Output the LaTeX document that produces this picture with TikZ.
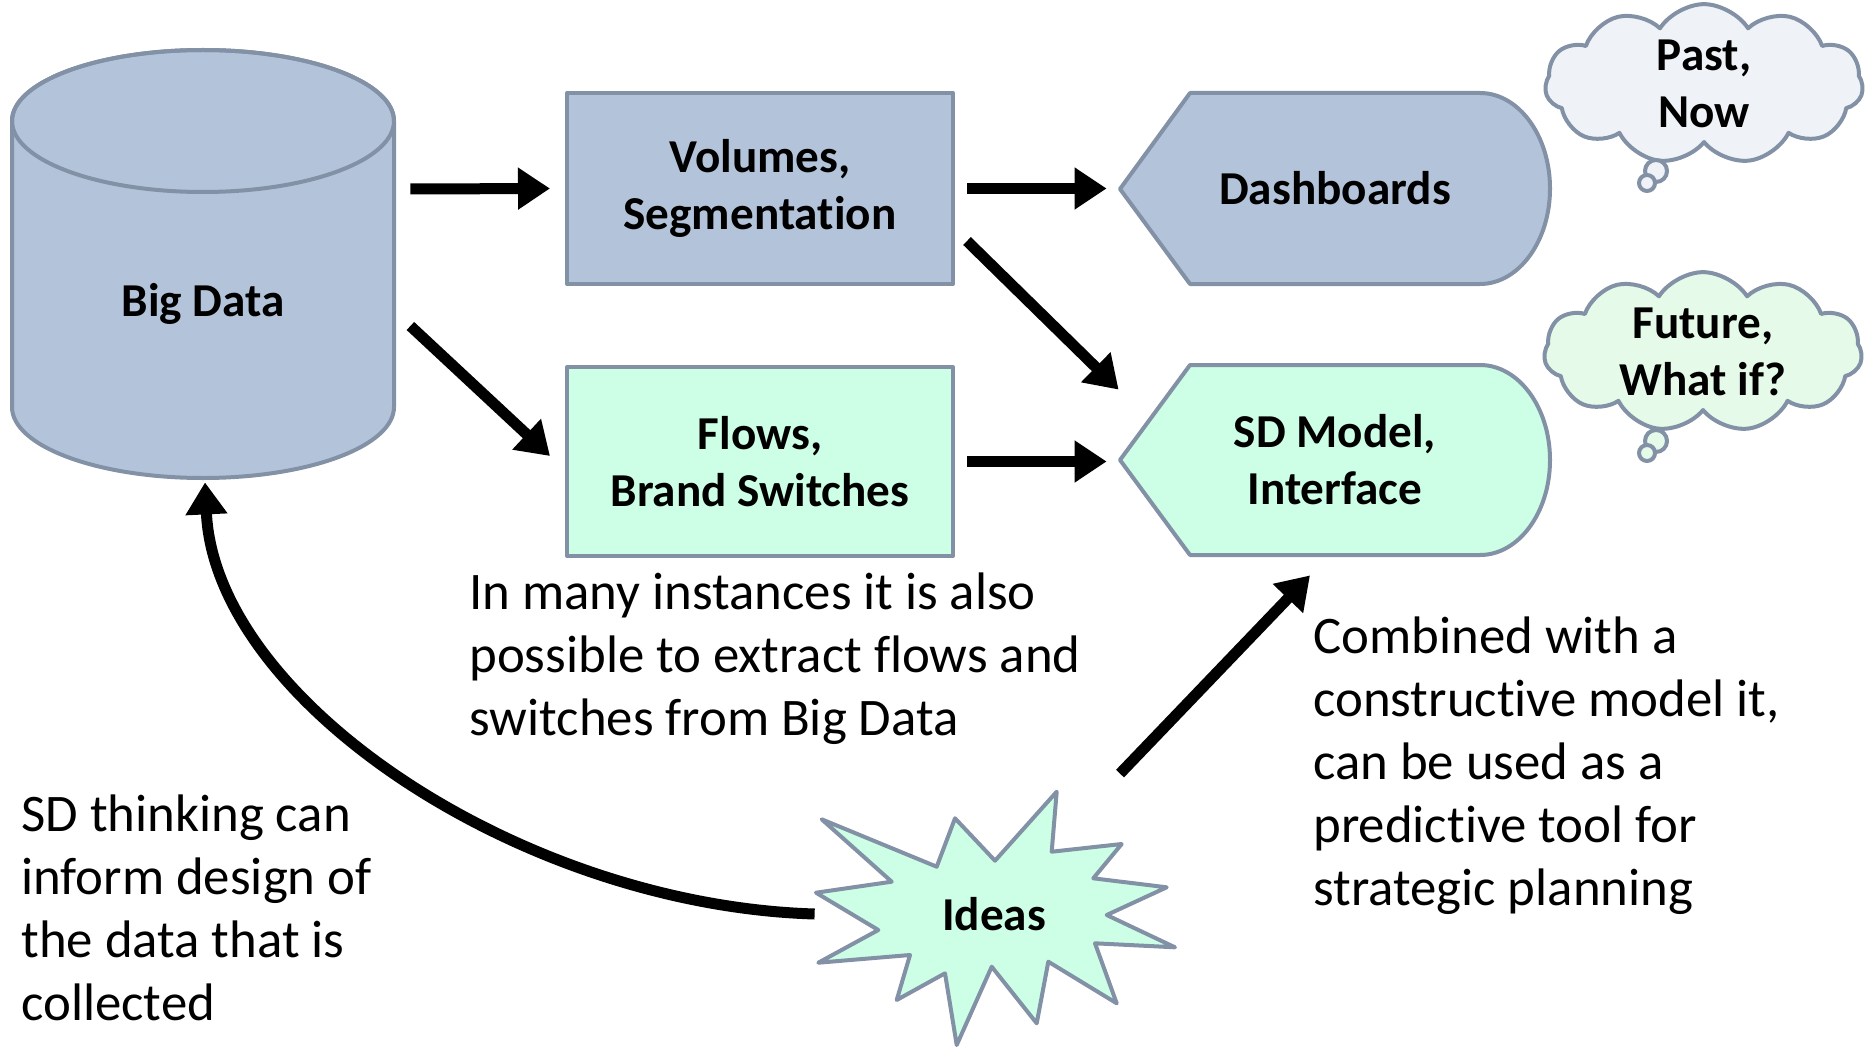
\documentclass[tikz,border=0pt]{standalone}
\usepackage{fontspec}
\setmainfont{Carlito}[Ligatures=NoCommon]
\usetikzlibrary{arrows.meta,shapes.symbols,calc}

\definecolor{bluefill}{RGB}{179,196,218}
\definecolor{greenfill}{RGB}{204,255,229}
\definecolor{edgegray}{RGB}{130,145,165}
\definecolor{cloudblue}{RGB}{239,243,248}
\definecolor{cloudgreen}{RGB}{230,250,233}

\begin{document}
\begin{tikzpicture}[x=0.5pt,y=-0.5pt,
  shape edge/.style={draw=edgegray, line width=2pt, line join=round},
  label text/.style={font=\fontsize{23.6}{28.5}\selectfont\bfseries, align=center, inner sep=0pt},
  body text/.style={font=\fontsize{26.4}{31.6}\selectfont, align=left, inner sep=0pt, anchor=north west},
  stepbox/.style={shape edge, label text, rectangle, minimum width=193pt},
  thought/.style={cloud, cloud puffs=11, cloud puff arc=115, aspect=2.1, shape edge,
    label text, minimum width=159pt, minimum height=78pt},
  flow/.style={line width=5.5pt, -{Triangle[length=16pt,width=20pt]}},
]
\useasboundingbox (0,0) rectangle (1872,1048);

% data store drawn as a cylinder
\path[shape edge, fill=bluefill]
  (12,121) -- (12,407)
  arc[start angle=180, end angle=0, x radius=191, y radius=71]
  -- (394,121)
  arc[start angle=0, end angle=-180, x radius=191, y radius=71] -- cycle;
\draw[shape edge] (203,121) ellipse[x radius=191, y radius=71];
\node[label text, minimum width=191pt, minimum height=214pt,
  text height=52pt, text depth=0pt] (bigdata) at (203,264) {Big Data};

% processing boxes
\node[stepbox, fill=bluefill, minimum height=95.5pt] (vol) at (760,188.5)
  {Volumes,\\Segmentation};
\node[stepbox, fill=greenfill, minimum height=94.5pt] (flows) at (760,461.5)
  {Flows,\\Brand Switches};

% display shapes
\path[shape edge, fill=bluefill]
  (1120,189) -- (1190,93) -- (1480,93)
  arc[start angle=-90, end angle=90, x radius=70, y radius=95.5]
  -- (1190,284) -- cycle;
\node[label text, minimum width=215pt, minimum height=95.5pt] (dash) at (1335,188.5)
  {Dashboards};
\path[shape edge, fill=greenfill]
  (1120,460) -- (1190,365) -- (1480,365)
  arc[start angle=-90, end angle=90, x radius=70, y radius=95]
  -- (1190,555) -- cycle;
\node[label text, minimum width=215pt, minimum height=95pt] (sd) at (1335,460)
  {SD Model,\\Interface};

% thought clouds
\node[thought, fill=cloudblue] (past) at (1704,84) {Past,\\Now};
\draw[shape edge, fill=cloudblue] (1656,171) circle[radius=11];
\draw[shape edge, fill=cloudblue] (1647,183) circle[radius=8];
\node[thought, fill=cloudgreen] (future) at (1703,352) {Future,\\What if?};
\draw[shape edge, fill=cloudgreen] (1656,441) circle[radius=11];
\draw[shape edge, fill=cloudgreen] (1647,453) circle[radius=8];

% ideas burst
\path[shape edge, fill=greenfill]
  (821.7,819.3) -- (936.7,866.7) -- (955,818.3) -- (995,860.7) -- (1056.7,791.7)
  -- (1051.7,851.7) -- (1121.7,844) -- (1093.3,878.3) -- (1166.7,887.3)
  -- (1106.7,915) -- (1175,947.3) -- (1095,943.3) -- (1116.7,1003.3)
  -- (1048.3,961.7) -- (1036.7,1023.3) -- (991.7,966.7) -- (956.7,1045)
  -- (945,973.3) -- (896.7,1000) -- (910,955) -- (818.3,962.7)
  -- (878.3,930) -- (816,892.7) -- (891.7,881.7) -- cycle;
\node[label text, minimum width=179pt, minimum height=125pt] (ideas) at (994,914) {Ideas};

% connectors
\draw[flow] ($(bigdata.east)+(16,-75)$) -- ($(vol.west)+(-15,0)$);
\draw[flow] ($(bigdata.east)+(16,62)$) -- ($(flows.west)+(-15,-5.5)$);
\draw[flow] ($(vol.east)+(12,0)$) -- ($(dash.west)+(-13,0)$);
\draw[flow] ($(vol.south east)+(12,-45)$) -- ($(sd.north west)+(-1,25)$);
\draw[flow] ($(flows.east)+(12,0)$) -- ($(sd.west)+(-13,1.5)$);
\draw[flow] ($(ideas.north)+(126,-15)$) -- ($(sd.south)+(-25,20)$);
\draw[flow] (ideas.west) .. controls (520,905) and (215,700) .. ($(bigdata.south)+(2,4)$);

% notes
\node[body text] (note1) at (469,572)
  {In many instances it is also\\possible to extract flows and\\switches from Big Data};
\node[body text] (note2) at (1313,616)
  {Combined with a\\constructive model it,\\can be used as a\\predictive tool for\\strategic planning};
\node[body text] (note3) at (21,794)
  {SD thinking can\\inform design of\\the data that is\\collected};
\end{tikzpicture}
\end{document}
